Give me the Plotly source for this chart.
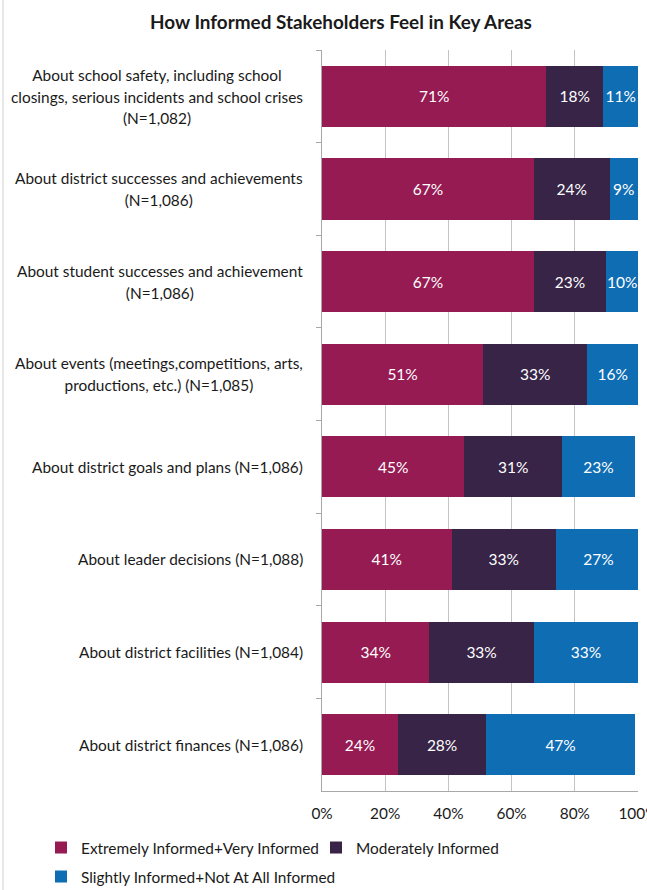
import plotly.graph_objects as go

# Survey items, top to bottom
categories = [
    "About school safety, including school<br>closings, serious incidents and school crises<br>(N=1,082)",
    "About district successes and achievements<br>(N=1,086)",
    "About student successes and achievement<br>(N=1,086)",
    "About events (meetings,competitions, arts,<br>productions, etc.) (N=1,085)",
    "About district goals and plans (N=1,086)",
    "About leader decisions (N=1,088)",
    "About district facilities (N=1,084)",
    "About district finances (N=1,086)",
]

extremely_very = [71, 67, 67, 51, 45, 41, 34, 24]
moderately = [18, 24, 23, 33, 31, 33, 33, 28]
slightly_not = [11, 9, 10, 16, 23, 27, 33, 47]

series_names = [
    "Extremely Informed+Very Informed",
    "Moderately Informed",
    "Slightly Informed+Not At All Informed",
]
series_colors = ["#951b52", "#372447", "#0f6db4"]
series_legends = ["legend", "legend", "legend2"]

x_ticks = [0, 20, 40, 60, 80, 100]
x_tick_text = ["0%", "20%", "40%", "60%", "80%", "100%"]

W, H = 647, 890
M_L, M_R, M_T, M_B = 322, 9, 50, 99
PLOT_W = W - M_L - M_R
PLOT_H = H - M_T - M_B

FONT = "Lato"
TEXT_COLOR = "#1a1a1a"


def px_to_paper_y(py):
    return (H - M_B - py) / PLOT_H


fig = go.Figure()
for name, vals, color, lg in zip(series_names, [extremely_very, moderately, slightly_not],
                                 series_colors, series_legends):
    fig.add_trace(go.Bar(
        name=name,
        y=categories,
        x=vals,
        orientation="h",
        marker=dict(color=color, line=dict(width=0)),
        text=[f"{v}%" for v in vals],
        textposition="inside",
        insidetextanchor="middle",
        textangle=0,
        textfont=dict(family=FONT, size=15.5, color="white"),
        hoverinfo="skip",
        legend=lg,
    ))

# Category labels: centred lines, block aligned against the axis
label_x = (305 - M_L) / PLOT_W
annotations = [
    dict(
        x=label_x, xref="paper", y=cat, yref="y",
        text=f'<span style="font-size:15.4px">{cat}</span>',
        showarrow=False, xanchor="right", yanchor="middle", align="center",
        font=dict(family=FONT, size=16.7, color=TEXT_COLOR),
    )
    for cat in categories
]

legend_common = dict(
    orientation="h", x=(41 - M_L) / PLOT_W, xanchor="left", yanchor="top",
    font=dict(family=FONT, size=15.4, color=TEXT_COLOR),
    itemwidth=30, traceorder="normal", bgcolor="rgba(0,0,0,0)",
)

fig.update_layout(
    width=W, height=H,
    margin=dict(l=M_L, r=M_R, t=M_T, b=M_B, autoexpand=False),
    paper_bgcolor="white", plot_bgcolor="white",
    barmode="stack", bargap=0.34,
    uniformtext=dict(minsize=15.5, mode="show"),
    title=dict(
        text="<b>How Informed Stakeholders Feel in Key Areas</b>",
        x=341 / W, xanchor="center", xref="container",
        y=1 - 22 / H, yanchor="middle", yref="container",
        font=dict(family=FONT, size=18.9, color=TEXT_COLOR),
    ),
    xaxis=dict(
        range=[0, 100], tickvals=x_ticks, ticktext=x_tick_text,
        showgrid=True, gridcolor="#c4c4c4", gridwidth=1,
        showline=True, linecolor="#a8a8a8", linewidth=1,
        ticks="", zeroline=False, fixedrange=True,
        ticklabelstandoff=9, ticklabeloverflow="allow",
        tickfont=dict(family=FONT, size=15.4, color=TEXT_COLOR),
    ),
    yaxis=dict(
        autorange="reversed", showticklabels=False,
        showline=True, linecolor="#a8a8a8", linewidth=1,
        ticks="outside", tickson="boundaries", ticklen=5, tickcolor="#a8a8a8",
        showgrid=False, fixedrange=True,
    ),
    legend=dict(legend_common, y=px_to_paper_y(831), entrywidth=230),
    legend2=dict(legend_common, y=px_to_paper_y(860)),
    annotations=annotations,
    shapes=[dict(
        type="line", xref="paper", yref="paper",
        x0=(3 - M_L) / PLOT_W, x1=(3 - M_L) / PLOT_W,
        y0=-M_B / PLOT_H, y1=1 + M_T / PLOT_H,
        line=dict(color="#d0d0d0", width=1),
    )],
)

fig.write_html("out.html")
